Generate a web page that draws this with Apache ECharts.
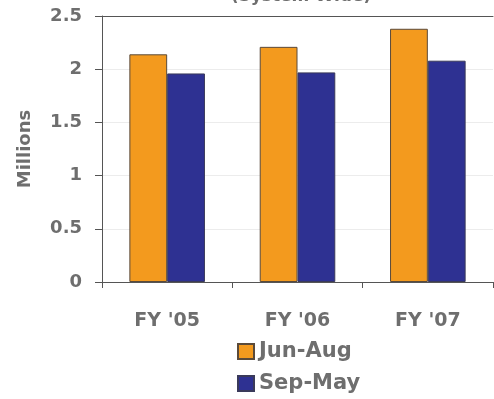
<!DOCTYPE html>
<html><head><meta charset="utf-8">
<script src="https://cdn.jsdelivr.net/npm/echarts@6/dist/echarts.min.js"></script>
<style>html,body{margin:0;padding:0;background:#fff}#c{width:494px;height:399px}</style>
</head><body><div id="c"></div>
<script>
var categories = ["FY '05", "FY '06", "FY '07"];
var junAug = [2.14, 2.21, 2.38];
var sepMay = [1.96, 1.97, 2.08];
var yTicks = [0, 0.5, 1, 1.5, 2, 2.5];

var txt = '#6e6e6e';
var ff = 'DejaVu Sans';
var chart = echarts.init(document.getElementById('c'));
chart.setOption({
  animation: false,
  backgroundColor: '#ffffff',
  title: {
    text: '(System Wide)', left: 296, textAlign: 'center', top: -17,
    textStyle: {color: txt, fontFamily: ff, fontWeight: 'bold', fontSize: 17}
  },
  grid: {left: 102, right: 1, top: 16, bottom: 117, containLabel: false},
  legend: {
    orient: 'vertical', left: 237, top: 341, itemGap: 11, padding: 0,
    itemWidth: 16, itemHeight: 15, icon: 'rect',
    textStyle: {color: txt, fontFamily: ff, fontWeight: 'bold', fontSize: 21},
    data: ['Jun-Aug', 'Sep-May']
  },
  xAxis: [{
    type: 'category', data: categories,
    axisLine: {lineStyle: {color: '#555', width: 1}},
    axisTick: {show: true, length: 6, lineStyle: {color: '#555'}},
    axisLabel: {color: txt, fontFamily: ff, fontWeight: 'bold', fontSize: 19, margin: 30}
  }, {
    type: 'category', data: categories, position: 'top',
    axisLine: {show: true, lineStyle: {color: '#555', width: 1}},
    axisTick: {show: false}, axisLabel: {show: false}
  }],
  yAxis: {
    type: 'value', min: 0, max: 2.5, interval: 0.5,
    name: 'Millions', nameLocation: 'middle', nameGap: 68, nameRotate: 90,
    nameTextStyle: {color: txt, fontFamily: ff, fontWeight: 'bold', fontSize: 18},
    axisLine: {show: true, lineStyle: {color: '#555', width: 1}},
    axisTick: {show: true, length: 7, lineStyle: {color: '#555'}},
    axisLabel: {color: txt, fontFamily: ff, fontWeight: 'bold', fontSize: 18, margin: 20,
      formatter: function (v) { return yTicks.indexOf(v) >= 0 ? String(v) : ''; }},
    splitLine: {show: true, lineStyle: {color: '#ececec', width: 1}}
  },
  series: [{
    name: 'Jun-Aug', type: 'bar', data: junAug, barGap: '0%', barCategoryGap: '42%',
    itemStyle: {color: '#F39A1E', borderColor: '#5a4a3a', borderWidth: 1}
  }, {
    name: 'Sep-May', type: 'bar', data: sepMay,
    itemStyle: {color: '#2E3192', borderColor: '#3a3a5a', borderWidth: 1}
  }]
});
</script></body></html>
